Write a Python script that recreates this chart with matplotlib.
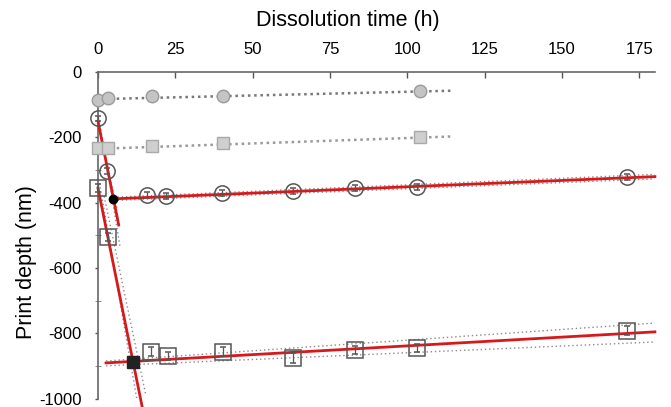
import numpy as np
import matplotlib
matplotlib.use("Agg")
import matplotlib.pyplot as plt

plt.rcParams['font.family'] = ['Liberation Sans', 'DejaVu Sans']
plt.rcParams['axes.unicode_minus'] = False

# gray reference series (circles / squares)
ref_circ_t = [0, 3.2, 17.5, 40.5, 104]
ref_circ_d = [-86, -80, -74, -72, -58]
ref_sq_t = [0, 3.2, 17.5, 40.5, 104]
ref_sq_d = [-232, -232, -226, -217, -199]

# open circles series
circ_t = [0, 3.0, 16, 22, 40, 63, 83, 103, 171]
circ_d = [-141, -303, -376, -379, -370, -364, -355, -352, -321]
circ_err = [8, 8, 8, 8, 8, 10, 8, 8, 10]
circ_break = (5.0, -388)

# open squares series
sq_t = [0, 3.2, 17, 22.6, 40.5, 63, 83, 103, 171]
sq_d = [-355, -505, -856, -868, -856, -875, -850, -844, -792]
sq_err = [12, 12, 14, 12, 14, 14, 12, 12, 14]
sq_break = (11.3, -887)

# fitted lines (end points) and dotted confidence bands
ref_circ_fit = ([0, 115], [-83, -57])
ref_sq_fit = ([0, 115], [-235, -197])
circ_fast = ([0, 6.7], [-150, -468])
circ_fast_band = ([[0.5, 7.2], [-0.3, 6.2]], [[-150, -538], [-150, -420]])
circ_slow = ([5.0, 180], [-388, -320])
circ_slow_band = ([[5.0, 180], [5.0, 180]], [[-383, -313], [-393, -327]])
sq_fast = ([0, 14.3], [-355, -1025])
sq_fast_band = ([[0.5, 13.0], [2.0, 15.5]], [[-340, -1025], [-380, -990]])
sq_slow = ([2.6, 180], [-890, -795])
sq_slow_band = ([[2.6, 180], [2.6, 180]], [[-884, -768], [-899, -826]])

fig = plt.figure(figsize=(6.71, 4.07), dpi=100)
ax = fig.add_axes([0.146, 0.02, 0.83, 0.803])

red = '#d7191c'
band_kw = dict(color='#8a8a8a', ls=(0, (1, 2)), lw=1.0, zorder=2)

# gray reference series
ax.plot(*ref_circ_fit, color='#777777', ls=(0, (1, 1.5)), lw=1.8, zorder=2)
ax.plot(*ref_sq_fit, color='#999999', ls=(0, (1, 1.5)), lw=1.8, zorder=2)
ax.plot(ref_circ_t, ref_circ_d, 'o', ms=9, mfc='#c4c4c4', mec='#9a9a9a',
        mew=1.0, clip_on=False, zorder=4)
ax.plot(ref_sq_t, ref_sq_d, 's', ms=9, mfc='#cfcfcf', mec='#a8a8a8',
        mew=1.0, clip_on=False, zorder=4)

# bands
for bx, by in zip(*circ_fast_band):
    ax.plot(bx, by, **band_kw)
for bx, by in zip(*circ_slow_band):
    ax.plot(bx, by, **band_kw)
for bx, by in zip(*sq_fast_band):
    ax.plot(bx, by, **band_kw)
for bx, by in zip(*sq_slow_band):
    ax.plot(bx, by, **band_kw)

# red fits
for line in (circ_fast, circ_slow, sq_fast, sq_slow):
    ax.plot(*line, color=red, lw=2.0, zorder=3, clip_on=False)

# open markers with error bars
ax.errorbar(circ_t, circ_d, yerr=circ_err, fmt='o', ms=11, mfc='none',
            mec='#555555', mew=1.1, ecolor='#555555', elinewidth=0.9,
            capsize=2, clip_on=False, zorder=5)
ax.errorbar(sq_t, sq_d, yerr=sq_err, fmt='s', ms=11, mfc='none',
            mec='#555555', mew=1.1, ecolor='#555555', elinewidth=0.9,
            capsize=2, clip_on=False, zorder=5)

# break points
ax.plot(*circ_break, 'o', ms=6, color='black', zorder=6)
ax.plot(*sq_break, 's', ms=9, color='#222222', zorder=6)

ax.set_xlim(0, 180)
ax.set_ylim(-1000, 0)
ax.xaxis.tick_top()
ax.xaxis.set_label_position('top')
ax.set_xticks(np.arange(0, 176, 25))
ax.set_yticks(np.arange(-1000, 1, 200))
ax.set_yticks(np.arange(-900, 0, 200), minor=True)
ax.tick_params(axis='x', direction='in', length=4, width=1, colors='#555555',
               labelcolor='black', labelsize=12, pad=11)
ax.tick_params(axis='y', direction='out', length=2, width=1, colors='#555555',
               labelcolor='black', labelsize=12, pad=10)
ax.tick_params(axis='y', which='minor', direction='inout', length=4,
               colors='#777777')
for s in ('right', 'bottom'):
    ax.spines[s].set_visible(False)
for s in ('left', 'top'):
    ax.spines[s].set_color('#666666')
    ax.spines[s].set_linewidth(1.2)

ax.set_xlabel('Dissolution time (h)', fontsize=15.5)
ax.set_ylabel('Print depth (nm)', fontsize=15.5)
ax.xaxis.set_label_coords(0.449, 1.14)
ax.yaxis.set_label_coords(-0.11, 0.42)

fig.savefig('out.png', dpi=100)
